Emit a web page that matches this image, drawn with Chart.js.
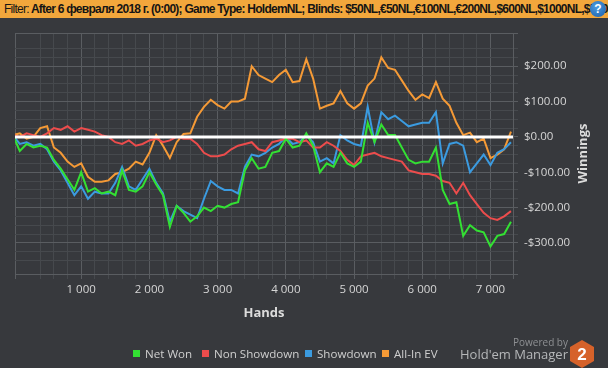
<!DOCTYPE html>
<html>
<head>
<meta charset="utf-8">
<script src="https://cdn.jsdelivr.net/npm/chart.js@4/dist/chart.umd.min.js"></script>
<style>
html, body { margin: 0; padding: 0; width: 608px; height: 368px; overflow: hidden; background: #37393d; font-family: "Open Sans", sans-serif; }
#filter { position: absolute; left: 0; top: 0; width: 608px; height: 18px; background: #f2a73c; color: #151515;
  font: bold 12px "Liberation Sans", Arial, sans-serif; line-height: 18px; white-space: nowrap; overflow: hidden;
  padding-left: 4px; box-sizing: border-box; letter-spacing: -0.75px; }
#filter span { font-weight: normal; }
#help { position: absolute; left: 590px; top: 1px; width: 16px; height: 16px; border-radius: 50%;
  background: radial-gradient(circle at 40% 35%, #4d9be0, #1a5ea8); color: #fff; font: bold 12px "Liberation Sans", Arial, sans-serif;
  text-align: center; line-height: 16px; }
#wrap { position: absolute; left: 0; top: 18px; width: 608px; height: 350px; }
#legend div { position: absolute; top: 346px; display: flex; align-items: center; font: 11.6px "Open Sans", sans-serif; color: #cfcfcf; white-space: nowrap; }
#legend i { display: inline-block; width: 7px; height: 7px; margin-right: 5px; }
#powered { position: absolute; right: 40px; top: 335px; font: 10px "Open Sans", sans-serif; color: #8e9093; }
#hm { position: absolute; right: 40px; top: 345px; font: 13px "Open Sans", sans-serif; color: #b5b7b9; }
#logo { position: absolute; left: 568px; top: 339px; }
</style>
</head>
<body>
<div id="filter"><span>Filter:</span> After 6 февраля 2018 г. (0:00); Game Type: HoldemNL; Blinds: $50NL,€50NL,€100NL,€200NL,$600NL,$1000NL,$5000NL</div>
<div id="help">?</div>
<div id="wrap"><canvas id="chart"></canvas></div>
<div id="legend"></div>
<div id="powered">Powered by</div>
<div id="hm">Hold'em Manager</div>
<svg id="logo" width="28" height="30" viewBox="0 0 28 30">
  <polygon points="14,1 26,8 26,22 14,29 2,22 2,8" fill="#d6622a"/>
  <text x="14" y="21" text-anchor="middle" font-family="Liberation Sans, Arial" font-weight="bold" font-size="17" fill="#fff">2</text>
</svg>
<script>
const hands = [0, 100, 200, 300, 400, 500, 600, 700, 800, 900,
    1000, 1100, 1200, 1300, 1400, 1500, 1600, 1700, 1800, 1900,
    2000, 2100, 2200, 2300, 2400, 2500, 2600, 2700, 2800, 2900,
    3000, 3100, 3200, 3300, 3400, 3500, 3600, 3700, 3800, 3900,
    4000, 4100, 4200, 4300, 4400, 4500, 4600, 4700, 4800, 4900,
    5000, 5100, 5200, 5300, 5400, 5500, 5600, 5700, 5800, 5900,
    6000, 6100, 6200, 6300, 6400, 6500, 6600, 6700, 6800, 6900,
    7000, 7100, 7200, 7300];

const netWon = [5, -40, -20, -30, -25, -30, -65, -90, -120, -150,
    -100, -155, -145, -160, -155, -165, -95, -150, -155, -140,
    -100, -135, -165, -255, -195, -215, -240, -225, -200, -210,
    -195, -200, -190, -185, -95, -60, -90, -85, -45, -40,
    -5, -30, -25, 10, -25, -100, -75, -85, -45, -75,
    -85, -70, 40, -15, 35, 5, 5, -30, -65, -75,
    -70, -70, -30, -150, -190, -185, -280, -250, -265, -270,
    -310, -280, -275, -240];

const nonShowdown = [5, 0, 10, 5, 0, 10, 25, 20, 30, 15,
    25, 20, 15, 5, 0, -15, -20, -10, -25, -20,
    -10, -5, -15, -10, 0, -5, -5, -20, -45, -55,
    -55, -50, -35, -25, -20, -15, -35, -40, -15, -10,
    -5, -5, -15, -10, -30, -30, -15, -25, -40, -65,
    -80, -55, -50, -45, -55, -60, -65, -70, -95, -100,
    -105, -105, -110, -125, -130, -160, -130, -165, -190, -215,
    -230, -235, -225, -210];

const showdown = [5, -20, -15, -25, -20, -35, -70, -95, -130, -165,
    -140, -175, -155, -160, -160, -130, -85, -140, -150, -120,
    -90, -130, -160, -240, -195, -210, -220, -230, -175, -125,
    -140, -150, -150, -160, -85, -50, -55, -45, -30, -20,
    0, -20, -15, 5, -15, -70, -60, -75, 5, -10,
    -20, -25, 85, -15, 70, 50, 60, 45, 30, 35,
    40, 40, 70, -75, -20, -15, -25, -100, -75, -50,
    -80, -45, -35, -15];

const allInEV = [5, 10, -5, 0, 25, 30, -30, -45, -70, -85,
    -75, -113, -127, -127, -123, -105, -100, -90, -70, -78,
    -45, 5, -25, -60, -15, 8, 10, 57, 85, 105,
    90, 80, 100, 100, 108, 200, 175, 165, 155, 175,
    190, 155, 158, 220, 165, 80, 88, 95, 130, 95,
    80, 95, 145, 165, 225, 195, 190, 160, 130, 105,
    120, 110, 155, 108, 88, 40, 5, 12, -15, -5,
    -60, -50, -35, 15];

const seriesNames = ['Net Won', 'Non Showdown', 'Showdown', 'All-In EV'];
const seriesColors = ['#33e033', '#ec4c4c', '#3b9be0', '#f59a36'];
const seriesData = [netWon, nonShowdown, showdown, allInEV];
const legendLeft = [133, 202, 305, 382];

const xMin = 30, xMax = 7330;
const yMin = -388, yMax = 294;

const legend = document.getElementById('legend');
seriesNames.forEach((name, i) => {
    let item = document.createElement('div');
    item.style.left = legendLeft[i] + 'px';
    item.innerHTML = `<i style="background:${seriesColors[i]}"></i>${name}`;
    legend.appendChild(item);
});

const major = '#5a5d61';
const minor = '#46494d';
const tickFont = { family: 'Open Sans', size: 11.5 };

const zeroLine = {
    id: 'zeroLine',
    afterDatasetsDraw(chart) {
        const {ctx, chartArea, scales} = chart;
        const y = scales.y.getPixelForValue(0);
        ctx.save();
        ctx.strokeStyle = '#ffffff';
        ctx.lineWidth = 3;
        ctx.beginPath();
        ctx.moveTo(chartArea.left, y);
        ctx.lineTo(chartArea.right, y);
        ctx.stroke();
        ctx.restore();
    }
};

// right axis title reads bottom to top, chart.js would rotate it the other way
const yTitle = {
    id: 'yTitle',
    afterDraw(chart) {
        const {ctx, chartArea} = chart;
        ctx.save();
        ctx.translate(583, (chartArea.top + chartArea.bottom) / 2);
        ctx.rotate(-Math.PI / 2);
        ctx.font = 'bold 13px "Open Sans"';
        ctx.fillStyle = '#dcdcdc';
        ctx.textAlign = 'center';
        ctx.textBaseline = 'middle';
        ctx.fillText('Winnings', 0, 0);
        ctx.restore();
    }
};

const chart = new Chart(
    document.getElementById('chart'),
    {
        type: 'line',
        data: {
            datasets: seriesNames.map((name, i) => ({
                label: name,
                data: hands.map((h, j) => ({x: h, y: seriesData[i][j]})),
                borderColor: seriesColors[i],
                backgroundColor: seriesColors[i],
                borderWidth: 2,
                pointRadius: 0,
                tension: 0,
                fill: false
            }))
        },
        options: {
            responsive: true,
            maintainAspectRatio: false,
            animation: false,
            layout: { padding: { top: 15, left: 15, right: 0, bottom: 0 } },
            plugins: {
                legend: { display: false },
                tooltip: { enabled: false }
            },
            scales: {
                x: {
                    type: 'linear',
                    min: xMin,
                    max: xMax,
                    afterFit: s => { s.height = 94 },
                    grid: {
                        color: ctx => (ctx.tick && (ctx.tick.value % 1000 === 0 || ctx.tick.value === xMin || ctx.tick.value === xMax)) ? major : minor,
                        tickLength: 5
                    },
                    border: { color: major },
                    ticks: {
                        stepSize: 200,
                        maxTicksLimit: 1000,
                        autoSkip: false,
                        maxRotation: 0,
                        padding: 4,
                        color: '#d6d6d6',
                        font: tickFont,
                        callback: v => (v % 1000 === 0 && v > 0) ? (v / 1000) + ' 000' : ''
                    },
                    title: {
                        display: true,
                        text: 'Hands',
                        color: '#dcdcdc',
                        font: { family: 'Open Sans', size: 13, weight: 'bold' },
                        padding: { top: 0, bottom: 47 }
                    }
                },
                y: {
                    position: 'right',
                    min: yMin,
                    max: yMax,
                    afterFit: s => { s.width = 95 },
                    grid: {
                        color: ctx => (ctx.tick && (ctx.tick.value % 100 === 0 || ctx.tick.value === yMin || ctx.tick.value === yMax)) ? major : minor,
                        tickLength: 5
                    },
                    border: { color: major },
                    ticks: {
                        stepSize: 25,
                        maxTicksLimit: 1000,
                        autoSkip: false,
                        padding: 6,
                        color: '#d6d6d6',
                        font: tickFont,
                        callback: v => v % 100 === 0 ? (v < 0 ? '-$' : '$') + Math.abs(v).toFixed(2) : ''
                    }
                }
            }
        },
        plugins: [zeroLine, yTitle]
    }
);
</script>
</body>
</html>
